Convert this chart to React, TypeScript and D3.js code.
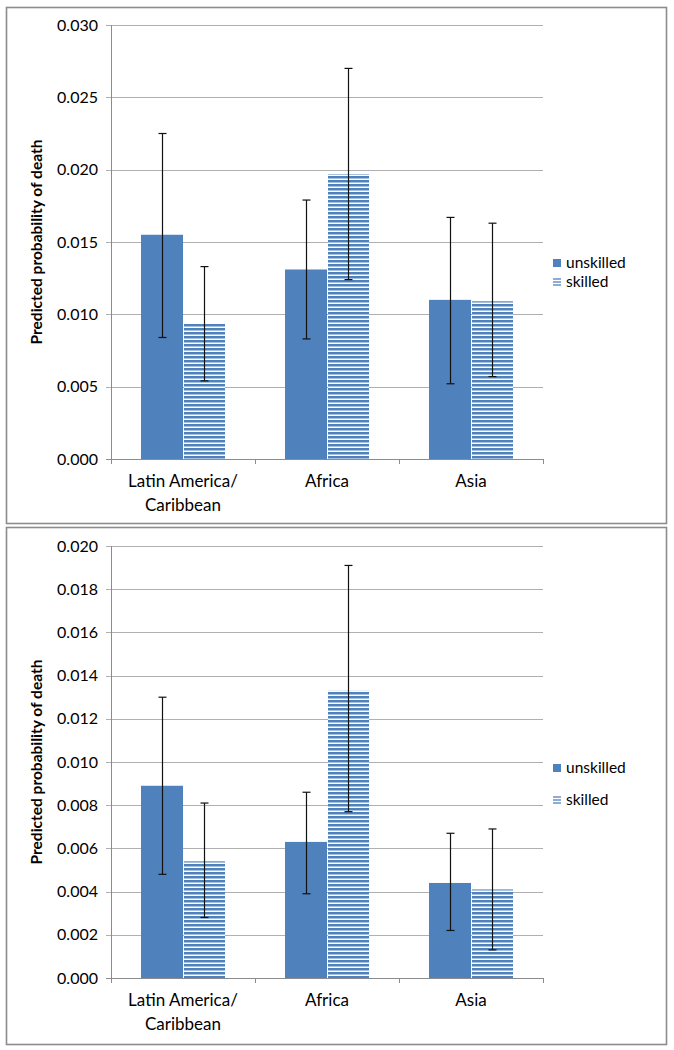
import React from "react";
import * as d3 from "d3";

const categories = ["Latin America/Caribbean", "Africa", "Asia"];
const categoryLines = [["Latin America/", "Caribbean"], ["Africa"], ["Asia"]];
const seriesNames = ["unskilled", "skilled"];

// Top chart
const topUnskilled = [0.0155, 0.0131, 0.011];
const topSkilled = [0.0094, 0.0197, 0.0109];
const topUnskilledLow = [0.0084, 0.0083, 0.0052];
const topUnskilledHigh = [0.0225, 0.0179, 0.0167];
const topSkilledLow = [0.0054, 0.0124, 0.0057];
const topSkilledHigh = [0.0133, 0.027, 0.0163];
const topTicks = [0, 0.005, 0.01, 0.015, 0.02, 0.025, 0.03];

// Bottom chart
const botUnskilled = [0.0089, 0.0063, 0.0044];
const botSkilled = [0.0054, 0.0133, 0.0041];
const botUnskilledLow = [0.0048, 0.0039, 0.0022];
const botUnskilledHigh = [0.013, 0.0086, 0.0067];
const botSkilledLow = [0.0028, 0.0077, 0.0013];
const botSkilledHigh = [0.0081, 0.0191, 0.0069];
const botTicks = [0, 0.002, 0.004, 0.006, 0.008, 0.01, 0.012, 0.014, 0.016, 0.018, 0.02];

const yTitle = "Predicted probability of death";

const BLUE = "#4F81BD";
const FONT = "Lato, 'Open Sans', 'Liberation Sans', sans-serif";

type PanelProps = {
  frameTop: number;
  frameBottom: number;
  plotTop: number;
  plotBottom: number;
  yMax: number;
  ticks: number[];
  unskilled: number[];
  skilled: number[];
  uLow: number[];
  uHigh: number[];
  sLow: number[];
  sHigh: number[];
  legendY: [number, number];
  patternId: string;
};

function Panel(p: PanelProps) {
  const left = 111;
  const right = 543;
  const x = d3.scaleBand<string>().domain(categories).range([left, right]).padding(0);
  const inner = d3
    .scaleBand<string>()
    .domain(seriesNames)
    .range([0, x.bandwidth()])
    .paddingInner(0)
    .paddingOuter(0.714);
  const y = d3.scaleLinear().domain([0, p.yMax]).range([p.plotBottom, p.plotTop]);
  const fmt = d3.format(".3f");
  const values = [p.unskilled, p.skilled];
  const lows = [p.uLow, p.sLow];
  const highs = [p.uHigh, p.sHigh];
  const boundaries = [left, ...categories.map((c) => (x(c) as number) + x.bandwidth())];
  const midY = (p.plotTop + p.plotBottom) / 2;
  return (
    <g>
      <rect
        x={6.5}
        y={p.frameTop + 0.5}
        width={660}
        height={p.frameBottom - p.frameTop - 1}
        fill="white"
        stroke="#8c8c8c"
        strokeWidth={1.6}
      />
      {p.ticks.map((t) => (
        <line key={"g" + t} x1={left - 5} x2={right} y1={Math.round(y(t)) + 0.5} y2={Math.round(y(t)) + 0.5} stroke="#b0b0b0" strokeWidth={1.2} />
      ))}
      {p.ticks.map((t) => (
        <text key={"t" + t} x={98} y={y(t)} dy="0.35em" textAnchor="end" fontSize={16} fontFamily={FONT} fill="#000">
          {fmt(t)}
        </text>
      ))}
      {categories.map((c, i) =>
        seriesNames.map((s, si) => {
          const bx = (x(c) as number) + (inner(s) as number);
          const by = y(values[si][i]);
          return (
            <rect
              key={c + s}
              x={bx + (si === 1 ? 1 : 0)}
              y={by}
              width={inner.bandwidth() - (si === 1 ? 1 : 0)}
              height={p.plotBottom - by}
              fill={si === 0 ? BLUE : `url(#${p.patternId})`}
            />
          );
        })
      )}
      <line x1={left + 0.5} x2={left + 0.5} y1={p.plotTop} y2={p.plotBottom} stroke="#8c8c8c" strokeWidth={1} />
      <line x1={left - 5} x2={right} y1={Math.round(p.plotBottom) + 0.5} y2={Math.round(p.plotBottom) + 0.5} stroke="#8c8c8c" strokeWidth={1} />
      {boundaries.map((b) => (
        <line key={"xt" + b} x1={b + 0.5} x2={b + 0.5} y1={p.plotBottom} y2={p.plotBottom + 5} stroke="#8c8c8c" strokeWidth={1} />
      ))}
      {categories.map((c, i) =>
        seriesNames.map((s, si) => {
          const cx = Math.round((x(c) as number) + (inner(s) as number) + inner.bandwidth() / 2) + 0.5;
          const yh = y(highs[si][i]);
          const yl = y(lows[si][i]);
          return (
            <g key={"e" + c + s} stroke="#111" strokeWidth={1.2}>
              <line x1={cx} x2={cx} y1={yh} y2={yl} />
              <line x1={cx - 4} x2={cx + 4} y1={yh} y2={yh} />
              <line x1={cx - 4} x2={cx + 4} y1={yl} y2={yl} />
            </g>
          );
        })
      )}
      {categories.map((c, i) => (
        <text
          key={"c" + c}
          x={(x(c) as number) + x.bandwidth() / 2}
          textAnchor="middle"
          fontSize={17}
          fontFamily={FONT}
          fill="#000"
        >
          {categoryLines[i].map((ln, li) => (
            <tspan key={li} x={(x(c) as number) + x.bandwidth() / 2} y={p.plotBottom + 22 + li * 24} dy="0.35em">
              {ln}
            </tspan>
          ))}
        </text>
      ))}
      <text
        transform={`translate(37,${midY}) rotate(-90)`}
        textAnchor="middle"
        dy="0.35em"
        fontSize={15.5}
        fontWeight="bold"
        fontFamily={FONT}
        fill="#000"
      >
        {yTitle}
      </text>
      {seriesNames.map((s, si) => (
        <g key={"l" + s}>
          {si === 0 ? (
            <rect x={553} y={p.legendY[si] - 4} width={8} height={8} fill={BLUE} />
          ) : (
            <g stroke={BLUE} strokeWidth={1.3}>
              <line x1={553} x2={561} y1={p.legendY[si] - 3} y2={p.legendY[si] - 3} />
              <line x1={553} x2={561} y1={p.legendY[si]} y2={p.legendY[si]} />
              <line x1={553} x2={561} y1={p.legendY[si] + 3} y2={p.legendY[si] + 3} />
            </g>
          )}
          <text x={566} y={p.legendY[si]} dy="0.35em" fontSize={15.5} fontFamily={FONT} fill="#000">
            {s}
          </text>
        </g>
      ))}
    </g>
  );
}

export default function App() {
  return (
    <svg width={674} height={1050} style={{ position: "absolute", left: 0, top: 0, background: "white" }}>
      <defs>
        {["hatchTop", "hatchBot"].map((id) => (
          <pattern key={id} id={id} patternUnits="userSpaceOnUse" width={8} height={4}>
            <rect x={0} y={0} width={8} height={4} fill="white" />
            <rect x={0} y={0} width={8} height={2.5} fill={BLUE} />
          </pattern>
        ))}
      </defs>
      <rect x={0} y={0} width={674} height={1050} fill="white" />
      <Panel
        frameTop={7}
        frameBottom={524}
        plotTop={25}
        plotBottom={459}
        yMax={0.03}
        ticks={topTicks}
        unskilled={topUnskilled}
        skilled={topSkilled}
        uLow={topUnskilledLow}
        uHigh={topUnskilledHigh}
        sLow={topSkilledLow}
        sHigh={topSkilledHigh}
        legendY={[263, 282]}
        patternId="hatchTop"
      />
      <Panel
        frameTop={527}
        frameBottom={1045}
        plotTop={546}
        plotBottom={978}
        yMax={0.02}
        ticks={botTicks}
        unskilled={botUnskilled}
        skilled={botSkilled}
        uLow={botUnskilledLow}
        uHigh={botUnskilledHigh}
        sLow={botSkilledLow}
        sHigh={botSkilledHigh}
        legendY={[768, 800]}
        patternId="hatchBot"
      />
    </svg>
  );
}
